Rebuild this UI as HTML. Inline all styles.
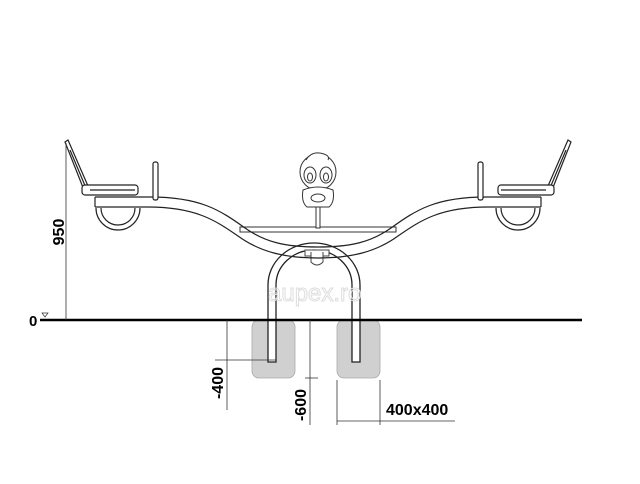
<!DOCTYPE html>
<html><head><style>body{margin:0;background:#fff}svg{display:block}</style></head>
<body>
<svg width="640" height="484" viewBox="0 0 640 484" xmlns="http://www.w3.org/2000/svg" font-family="Liberation Sans, sans-serif">
<rect width="640" height="484" fill="#fff"/>
<!-- footings -->
<rect x="252" y="320" width="43" height="58" rx="7" fill="#d0d0d0" stroke="#aaa" stroke-width="0.8"/>
<rect x="337" y="320" width="43" height="58" rx="7" fill="#d0d0d0" stroke="#aaa" stroke-width="0.8"/>
<!-- arch -->
<path d="M268 362 V285 A46 42 0 0 1 360 285 V362 H352 V285 A38 35 0 0 0 276 285 V362 Z" fill="#fff" stroke="#222" stroke-width="1.3"/>
<rect x="305" y="250" width="24" height="6" fill="#fff" stroke="#444"/>
<path d="M311 252 v10 q6 6 12 0 v-10" fill="#fff" stroke="#444"/>
<!-- center bar -->
<rect x="240" y="227" width="156" height="5" fill="#fff" stroke="#333" stroke-width="1"/>
<!-- duck -->
<g stroke="#333" stroke-width="1" fill="#fff">
<rect x="316" y="204" width="4" height="24"/>
<circle cx="318" cy="172" r="18"/>
<path d="M303 190 q-2 12 4 17 h22 q6 -5 4 -17 q-15 -6 -30 0z"/>
<ellipse cx="318" cy="198" rx="7" ry="4"/>
<ellipse cx="310" cy="175" rx="6" ry="8"/><ellipse cx="326" cy="175" rx="6" ry="8"/>
<ellipse cx="310" cy="177" rx="2.5" ry="4"/><ellipse cx="326" cy="177" rx="2.5" ry="4"/>
<path d="M306 160 q6 -10 18 -6 q6 2 4 6"/>
</g>
<g id="half" stroke="#222" stroke-width="1.2" fill="none">
<path d="M95 197 H150 C200 197 220 210 245 228 C265 242 285 247 318 247" />
<path d="M95 207 H148 C195 207 215 220 238 236 C260 252 285 258 318 258" fill="none"/>
<line x1="95" y1="197" x2="95" y2="207"/>
<path d="M65 142 L68 140 L88 186 L84 190 Z" fill="#fff"/>
<path d="M70 150 L86 188"/>
<rect x="82" y="185" width="56" height="10" rx="3" fill="#fff"/>
<line x1="90" y1="190" x2="135" y2="190"/>
<path d="M96 208 A22 22 0 0 0 140 208"/>
<path d="M101 208 A17 17 0 0 0 135 208"/>
<rect x="153" y="162" width="5" height="38" rx="2" fill="#fff"/>
</g>
<use href="#half" transform="translate(636,0) scale(-1,1)"/>
<text x="268" y="301" font-size="24" fill="none" stroke="#ddd" stroke-width="1">aupex.ro</text>
<line x1="40" y1="320" x2="582" y2="320" stroke="#000" stroke-width="2.5"/>
<line x1="66" y1="143" x2="66" y2="320" stroke="#333" stroke-width="0.8"/>
<text transform="translate(64,232) rotate(-90)" text-anchor="middle" font-size="16" font-weight="bold">950</text>
<text x="29" y="326" font-size="15" font-weight="bold">0</text>
<path d="M42 313 h6 l-3 4 z" fill="none" stroke="#333" stroke-width="0.7"/>
<g stroke="#333" stroke-width="0.8">
<line x1="227" y1="320" x2="227" y2="410"/>
<line x1="215" y1="360" x2="276" y2="360"/>
<line x1="310" y1="320" x2="310" y2="425"/>
<line x1="305" y1="378" x2="318" y2="378"/>
<line x1="337" y1="380" x2="337" y2="425"/>
<line x1="380" y1="380" x2="380" y2="425"/>
<line x1="337" y1="421" x2="455" y2="421"/>
</g>
<text transform="translate(223,383) rotate(-90)" text-anchor="middle" font-size="16" font-weight="bold">-400</text>
<text transform="translate(306,405) rotate(-90)" text-anchor="middle" font-size="16" font-weight="bold">-600</text>
<text x="386" y="415" font-size="16" font-weight="bold">400x400</text>
</svg>
</body></html>
